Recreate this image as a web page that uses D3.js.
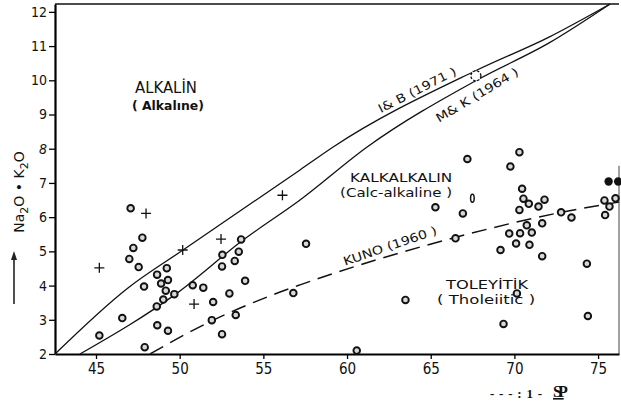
<!DOCTYPE html>
<html>
<head>
<meta charset="utf-8">
<script src="https://cdn.jsdelivr.net/npm/d3@7"></script>
<style>
  body { margin: 0; background: #fff; }
  svg { display: block; }
  .tick text { font-family: "Liberation Sans Narrow", "Arial Narrow", "DejaVu Sans Condensed", sans-serif; fill: #111; }
</style>
</head>
<body>
<svg id="chart" width="621" height="406"></svg>
<script>
// SiO2 (x) vs Na2O + K2O (y)
var xTicks = [45, 50, 55, 60, 65, 70, 75];
var yTicks = [2, 3, 4, 5, 6, 7, 8, 9, 10, 11, 12];

// open circles
var circlePts = [
  [47.07, 6.26], [47.77, 5.40], [47.23, 5.10], [46.99, 4.78], [47.55, 4.54],
  [49.23, 4.51], [48.65, 4.32], [49.30, 4.16], [48.89, 4.06], [47.87, 3.97],
  [49.17, 3.85], [49.68, 3.75], [49.02, 3.59], [48.63, 3.39], [46.57, 3.05],
  [45.20, 2.54], [48.66, 2.84], [49.30, 2.68], [47.91, 2.20], [50.78, 4.01],
  [51.41, 3.94], [52.55, 4.90], [53.67, 5.35], [53.53, 4.99], [53.29, 4.72],
  [52.53, 4.56], [53.91, 4.14], [52.97, 3.77], [52.00, 3.52], [51.92, 2.99],
  [53.35, 3.14], [52.53, 2.58], [56.79, 3.78], [57.55, 5.22], [60.58, 2.10],
  [63.49, 3.58], [65.28, 6.29], [66.92, 6.11], [66.48, 5.38], [67.19, 7.70],
  [70.30, 7.90], [69.76, 7.48], [70.46, 6.83], [70.54, 6.54], [70.86, 6.39],
  [71.80, 6.51], [71.44, 6.31], [70.30, 6.21], [72.79, 6.14], [73.41, 5.99],
  [71.66, 5.82], [70.74, 5.76], [69.69, 5.52], [70.34, 5.53], [71.04, 5.55],
  [70.10, 5.23], [70.90, 5.19], [69.17, 5.04], [71.66, 4.86], [74.33, 4.64],
  [70.15, 3.77], [74.39, 3.11], [69.35, 2.88], [75.38, 6.49], [76.04, 6.55],
  [75.68, 6.31], [75.42, 6.06]
];
// plus signs
var plusPts = [[45.20, 4.52], [47.99, 6.11], [50.18, 5.04], [52.47, 5.36], [50.86, 3.46], [56.14, 6.64]];
// filled dots
var dotPts = [[75.63, 7.04], [76.20, 7.04]];
// other symbols
var starPts = [[67.70, 10.13]];
var beanPts = [[67.49, 6.55]];

// dividing lines
var ibLine = [[42.55, 2.0], [46.91, 3.93], [50.2, 5.04], [57.19, 7.38], [59.17, 8.05], [67.77, 10.30], [72.1, 11.27], [75.72, 12.23]];
var mkLine = [[44.04, 2.0], [49.84, 3.78], [53.79, 5.33], [57.19, 6.5], [61.2, 8.05], [67.77, 10.01], [72.1, 11.1], [75.72, 12.23]];
var kunoLine = [[48.23, 2.0], [51.63, 2.9], [56.0, 3.81], [57.19, 4.02], [66.34, 5.39], [72.9, 6.15], [76.25, 6.44]];

var svg = d3.select("#chart"),
    margin = {top: 4, right: 2, bottom: 52, left: 55},
    width = +svg.attr("width") - margin.left - margin.right,
    height = +svg.attr("height") - margin.top - margin.bottom,
    g = svg.append("g").attr("transform", "translate(" + margin.left + "," + margin.top + ")");

var x = d3.scaleLinear().domain([42.55, 76.25]).range([0, width]);
var y = d3.scaleLinear().domain([2, 12.23]).range([height, 0]);

// frame bits (top and right)
g.append("line").attr("x1", 0).attr("x2", width).attr("y1", 0).attr("y2", 0)
    .attr("stroke", "#111").attr("stroke-width", 1.6);
g.append("line").attr("x1", width).attr("x2", width).attr("y1", y(7.5)).attr("y2", height)
    .attr("stroke", "#444").attr("stroke-width", 1);

// axes
var xAxis = g.append("g")
    .attr("transform", "translate(0," + height + ")")
    .call(d3.axisBottom(x).tickValues(xTicks).tickSize(5).tickSizeOuter(0).tickPadding(4));
xAxis.select(".domain").attr("stroke-width", 2.2);
xAxis.selectAll(".tick line").attr("stroke-width", 1.3);
xAxis.selectAll(".tick text").attr("font-size", 15);

var yAxis = g.append("g")
    .call(d3.axisLeft(y).tickValues(yTicks).tickSize(6).tickSizeOuter(0).tickPadding(2));
yAxis.select(".domain").attr("stroke-width", 2.2);
yAxis.selectAll(".tick line").attr("stroke-width", 1.3);
yAxis.selectAll(".tick text").attr("font-size", 14)
    .style("font-style", function(d) { return d === 8 ? "italic" : null; });

// lines
var line = d3.line()
    .x(function(d) { return x(d[0]); })
    .y(function(d) { return y(d[1]); })
    .curve(d3.curveMonotoneX);

g.append("path").datum(ibLine).attr("d", line)
    .attr("fill", "none").attr("stroke", "#111").attr("stroke-width", 1.3);
g.append("path").datum(mkLine).attr("d", line)
    .attr("fill", "none").attr("stroke", "#111").attr("stroke-width", 1.3);
g.append("path").datum(kunoLine).attr("d", line)
    .attr("fill", "none").attr("stroke", "#111").attr("stroke-width", 1.5)
    .attr("stroke-dasharray", "15,8");

// markers
g.append("g").selectAll("circle")
  .data(circlePts)
  .enter().append("circle")
    .attr("cx", function(d) { return x(d[0]); })
    .attr("cy", function(d) { return y(d[1]); })
    .attr("r", 3.3)
    .attr("fill", "#d8d8d8")
    .attr("stroke", "#111")
    .attr("stroke-width", 1.9);

g.append("g").selectAll("circle")
  .data(dotPts)
  .enter().append("circle")
    .attr("cx", function(d) { return x(d[0]); })
    .attr("cy", function(d) { return y(d[1]); })
    .attr("r", 4.2)
    .attr("fill", "#111");

g.append("g").selectAll("path")
  .data(plusPts)
  .enter().append("path")
    .attr("d", function(d) {
      var cx = x(d[0]), cy = y(d[1]), s = 5;
      return "M" + (cx - s) + "," + cy + "H" + (cx + s) + "M" + cx + "," + (cy - s) + "V" + (cy + s);
    })
    .attr("stroke", "#111").attr("stroke-width", 1.3);

g.append("g").selectAll("circle")
  .data(starPts)
  .enter().append("circle")
    .attr("cx", function(d) { return x(d[0]); })
    .attr("cy", function(d) { return y(d[1]); })
    .attr("r", 5)
    .attr("fill", "#fff")
    .attr("stroke", "#111")
    .attr("stroke-width", 1.3)
    .attr("stroke-dasharray", "2.5,1.5");

g.append("g").selectAll("ellipse")
  .data(beanPts)
  .enter().append("ellipse")
    .attr("cx", function(d) { return x(d[0]); })
    .attr("cy", function(d) { return y(d[1]); })
    .attr("rx", 1.8).attr("ry", 4)
    .attr("fill", "#fff").attr("stroke", "#111").attr("stroke-width", 1.5);

// field labels
var sans = "DejaVu Sans, sans-serif";
function label(txt, px, py, size, len, weight) {
  var t = g.append("text")
      .attr("x", x(px)).attr("y", y(py))
      .attr("text-anchor", "middle")
      .attr("font-family", sans)
      .attr("font-size", size)
      .attr("fill", "#111")
      .text(txt);
  if (len) t.attr("textLength", len).attr("lengthAdjust", "spacingAndGlyphs");
  if (weight) t.attr("font-weight", weight);
  return t;
}
label("ALKALİN", 49.18, 9.63, 15, 62);
label("( Alkalıne)", 49.3, 9.13, 13, 72, "bold");
label("KALKALKALIN", 63.23, 7.02, 11.5, 102);
label("(Calc-alkaline )", 62.93, 6.60, 11.5, 112);
label("TOLEYİTİK", 68.37, 3.89, 11.5, 82);
label("( Tholeiitic )", 68.31, 3.46, 11.5, 98);

function lineLabel(txt, px, py, angle, len) {
  g.append("text")
      .attr("transform", "translate(" + x(px) + "," + y(py) + ") rotate(" + angle + ")")
      .attr("text-anchor", "middle")
      .attr("dy", "0.35em")
      .attr("font-family", sans)
      .attr("font-size", 12)
      .attr("fill", "#111")
      .attr("textLength", len).attr("lengthAdjust", "spacingAndGlyphs")
      .text(txt);
}
lineLabel("I& B (1971 )", 64.19, 9.72, -27, 86);
lineLabel("M& K (1964 )", 67.77, 9.57, -31, 94);
lineLabel("KUNO (1960 )", 62.57, 5.16, -19, 98);

// y axis title with arrow
var yt = svg.append("text")
    .attr("transform", "translate(24,192) rotate(-90)")
    .attr("text-anchor", "middle")
    .attr("font-family", sans)
    .attr("font-size", 14)
    .attr("fill", "#111");
yt.append("tspan").text("Na");
yt.append("tspan").attr("dy", 4).attr("font-size", 11).text("2");
yt.append("tspan").attr("dy", -4).text("O • K");
yt.append("tspan").attr("dy", 4).attr("font-size", 11).text("2");
yt.append("tspan").attr("dy", -4).text("O");

svg.append("line").attr("x1", 14).attr("x2", 14).attr("y1", 304).attr("y2", 256)
    .attr("stroke", "#222").attr("stroke-width", 1.6);
svg.append("path").attr("d", "M14,251 L11,260 L17,260 Z").attr("fill", "#222");

// x axis title (as scanned)
svg.append("text")
    .attr("x", 490).attr("y", 398)
    .attr("font-family", "Liberation Serif, serif")
    .attr("font-size", 13).attr("font-weight", "bold")
    .attr("fill", "#111")
    .attr("textLength", 52).attr("lengthAdjust", "spacing")
    .text("---:1-");
svg.append("text")
    .attr("x", 553).attr("y", 397)
    .attr("font-family", "Liberation Serif, serif")
    .attr("font-size", 16).attr("font-weight", "bold")
    .attr("text-decoration", "underline")
    .attr("letter-spacing", -4)
    .attr("fill", "#111")
    .text("SP");
</script>
</body>
</html>
